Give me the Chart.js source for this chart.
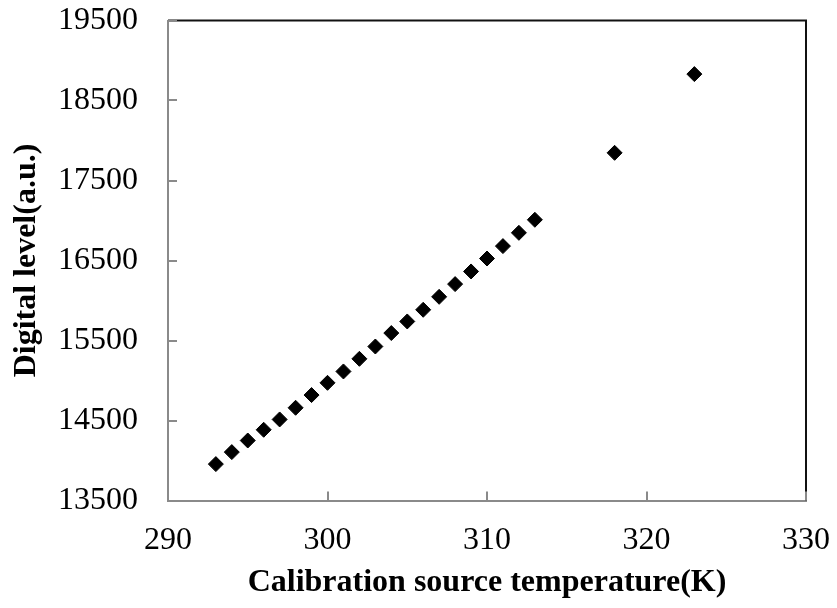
<!DOCTYPE html>
<html>
<head>
<meta charset="utf-8">
<script src="https://cdn.jsdelivr.net/npm/chart.js@4.4.1/dist/chart.umd.min.js"></script>
<style>
  html, body { margin: 0; padding: 0; background: #fff; }
  #wrap { width: 837px; height: 608px; }
</style>
</head>
<body>
<div id="wrap"><canvas id="calChart"></canvas></div>
<script>
// Calibration data
const temperatures = [293, 294, 295, 296, 297, 298, 299, 300, 301, 302, 303,
    304, 305, 306, 307, 308, 309, 310, 311, 312, 313, 318, 323];
const digitalLevels = [13955, 14105, 14250, 14384, 14513, 14659, 14818, 14971,
    15113, 15271, 15425, 15593, 15738, 15884, 16046, 16205, 16363, 16525,
    16680, 16846, 17009, 17846, 18830];
const xTicks = [290, 300, 310, 320, 330];
const yTicks = [13500, 14500, 15500, 16500, 17500, 18500, 19500];

const xTitle = 'Calibration source temperature(K)';
const yTitle = 'Digital level(a.u.)';

const axisGray = '#8a8a8a';
const tickFont = { family: '"Liberation Serif", "Times New Roman", serif', size: 32 };
const titleFont = { family: '"Liberation Serif", "Times New Roman", serif', size: 32, weight: 'bold' };

// Draws the black top/right frame and the short inward tick marks
const frameTicks = {
    id: 'frameTicks',
    beforeDatasetsDraw(chart) {
        const { ctx, chartArea: a, scales: { x, y } } = chart;
        ctx.save();
        ctx.lineWidth = 2;
        ctx.strokeStyle = '#111';
        ctx.beginPath();
        ctx.moveTo(a.left, a.top);
        ctx.lineTo(a.right, a.top);
        ctx.lineTo(a.right, a.bottom);
        ctx.stroke();

        ctx.strokeStyle = axisGray;
        ctx.beginPath();
        xTicks.forEach(v => {
            const px = Math.round(x.getPixelForValue(v));
            ctx.moveTo(px, a.bottom);
            ctx.lineTo(px, a.bottom - 9);
        });
        yTicks.forEach(v => {
            const py = Math.round(y.getPixelForValue(v));
            ctx.moveTo(a.left, py);
            ctx.lineTo(a.left + 9, py);
        });
        ctx.stroke();
        ctx.restore();
    }
};

const ctx = document.getElementById('calChart');
new Chart(ctx, {
    type: 'scatter',
    data: {
        datasets: [{
            data: temperatures.map((t, i) => ({ x: t, y: digitalLevels[i] })),
            pointStyle: 'rectRot',
            pointRadius: 7.5,
            pointBorderWidth: 1,
            backgroundColor: '#000',
            borderColor: '#000'
        }]
    },
    options: {
        responsive: true,
        maintainAspectRatio: false,
        animation: false,
        layout: {
            padding: { left: 0, right: 31, top: 20.5, bottom: 0 }
        },
        plugins: {
            legend: { display: false },
            tooltip: { enabled: false }
        },
        scales: {
            x: {
                type: 'linear',
                min: xTicks[0],
                max: xTicks[xTicks.length - 1],
                afterBuildTicks: s => { s.ticks = xTicks.map(v => ({ value: v })); },
                afterFit: s => { s.height = 107.5; s.paddingLeft = 0; s.paddingRight = 0; },
                grid: { display: true, drawOnChartArea: false, drawTicks: false },
                border: { color: axisGray, width: 2 },
                ticks: {
                    color: '#000',
                    font: tickFont,
                    padding: 21,
                    maxRotation: 0,
                    callback: v => String(v)
                },
                title: {
                    display: true,
                    text: xTitle,
                    color: '#000',
                    font: titleFont,
                    padding: { top: 0, bottom: 6 }
                }
            },
            y: {
                type: 'linear',
                min: yTicks[0],
                max: yTicks[yTicks.length - 1],
                afterBuildTicks: s => { s.ticks = yTicks.map(v => ({ value: v })); },
                afterFit: s => { s.width = 168; s.paddingTop = 0; s.paddingBottom = 0; },
                grid: { display: true, drawOnChartArea: false, drawTicks: false },
                border: { color: axisGray, width: 2 },
                ticks: {
                    color: '#000',
                    font: tickFont,
                    padding: 30,
                    callback: v => String(v)
                },
                title: {
                    display: true,
                    text: yTitle,
                    color: '#000',
                    font: titleFont,
                    padding: { top: 8, bottom: 0 }
                }
            }
        }
    },
    plugins: [frameTicks]
});
</script>
</body>
</html>
